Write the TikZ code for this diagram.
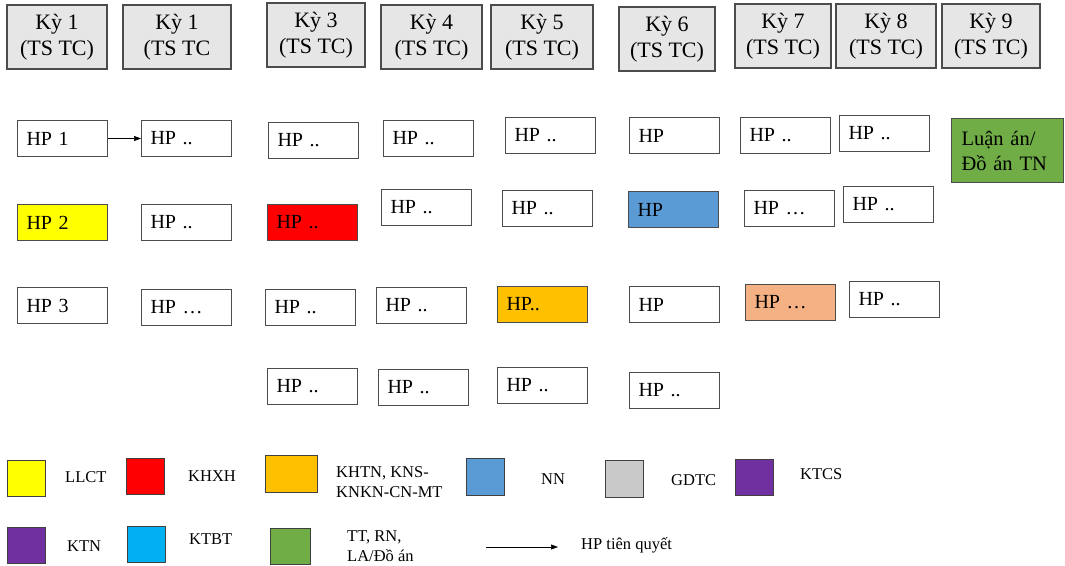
\documentclass[tikz,border=0pt]{standalone}
\usepackage{fontspec}
\setmainfont{Liberation Serif}
\usetikzlibrary{arrows.meta,positioning}
\definecolor{hdrgray}{HTML}{E7E6E6}
\definecolor{llct}{HTML}{FFFF00}
\definecolor{khxh}{HTML}{FF0000}
\definecolor{khtn}{HTML}{FFC000}
\definecolor{nn}{HTML}{5B9BD5}
\definecolor{gdtc}{HTML}{C9C9C9}
\definecolor{ktcs}{HTML}{7030A0}
\definecolor{ktbt}{HTML}{00B0F0}
\definecolor{tn}{HTML}{70AD47}
\definecolor{peach}{HTML}{F4B183}

\begin{document}
\begin{tikzpicture}[x=1pt, y=-1pt, font=\fontsize{20}{24}\selectfont,
  term/.style={draw=black!70, line width=1.1pt, fill=hdrgray, minimum height=64pt, inner sep=0pt, align=center, font=\fontsize{22}{26}\selectfont},
  hp/.style={draw=black!70, line width=1pt, anchor=north west, minimum height=36pt, text width=72pt, inner xsep=9pt, inner ysep=0pt, align=left},
  key/.style={draw=black!75, line width=1pt, anchor=north west, minimum width=38pt, minimum height=36pt, inner sep=0pt},
  keytext/.style={anchor=west, inner sep=0pt, align=left, font=\fontsize{16.5}{19.5}\selectfont},
  arrow/.style={-{Triangle[length=7pt,width=5pt]}, line width=0.6pt, draw=black}]
  \fill[white] (0,0) rectangle (1065,565);
  \useasboundingbox (0,0) rectangle (1065,565);
  % semesters
  \node[term, minimum width=100pt] (k1) at (57,37) {Kỳ 1\\(TS TC)};
  \node[term, minimum width=108pt] (k2) at (177,37) {Kỳ 1\\(TS TC};
  \node[term, minimum width=98pt] (k3) at (316,35) {Kỳ 3\\(TS TC)};
  \node[term, minimum width=101pt] (k4) at (431.5,37) {Kỳ 4\\(TS TC)};
  \node[term, minimum width=102pt] (k5) at (542,37) {Kỳ 5\\(TS TC)};
  \node[term, minimum width=96pt] (k6) at (667,39) {Kỳ 6\\(TS TC)};
  \node[term, minimum width=96pt] (k7) at (783,36) {Kỳ 7\\(TS TC)};
  \node[term, minimum width=100pt] (k8) at (886,36) {Kỳ 8\\(TS TC)};
  \node[term, minimum width=98pt] (k9) at (991,36) {Kỳ 9\\(TS TC)};
  % course boxes
  \node[hp] (a1) at (17,120) {HP 1};
  \node[hp, fill=llct] (a2) at (17,204) {HP 2};
  \node[hp] (a3) at (17,287) {HP 3};
  \node[hp] (b1) at (141,120) {HP ..};
  \node[hp] (b2) at (141,204) {HP ..};
  \node[hp] (b3) at (141,289) {HP …};
  \node[hp] (c1) at (268,122) {HP ..};
  \node[hp, fill=khxh] (c2) at (267,204) {HP ..};
  \node[hp] (c3) at (265,289) {HP ..};
  \node[hp] (c4) at (267,368) {HP ..};
  \node[hp] (d1) at (383,120) {HP ..};
  \node[hp] (d2) at (381,189) {HP ..};
  \node[hp] (d3) at (376,287) {HP ..};
  \node[hp] (d4) at (378,369) {HP ..};
  \node[hp] (e1) at (505,117) {HP ..};
  \node[hp] (e2) at (502,190) {HP ..};
  \node[hp, fill=khtn] (e3) at (497,286) {HP..};
  \node[hp] (e4) at (497,367) {HP ..};
  \node[hp] (f1) at (629,117) {HP};
  \node[hp, fill=nn] (f2) at (628,191) {HP};
  \node[hp] (f3) at (629,286) {HP};
  \node[hp] (f4) at (629,372) {HP ..};
  \node[hp] (g1) at (740,117) {HP ..};
  \node[hp] (g2) at (744,190) {HP …};
  \node[hp, fill=peach] (g3) at (745,284) {HP …};
  \node[hp] (h1) at (839,115) {HP ..};
  \node[hp] (h2) at (843,186) {HP ..};
  \node[hp] (h3) at (849,281) {HP ..};
  \node[hp, fill=tn, text width=92pt, inner xsep=10pt, minimum height=64pt, font=\fontsize{20.5}{25}\selectfont] (thesis) at (951,118) {Luận án/\\Đồ án TN};
  \draw[arrow] (a1) -- (b1);
  % legend
  \node[key, fill=llct] (sq1) at (7,460) {};
  \node[keytext] (lb1) at (65,477) {LLCT};
  \node[key, fill=khxh] (sq2) at (126,458) {};
  \node[keytext] (lb2) at (188,476) {KHXH};
  \node[key, fill=khtn, minimum width=52pt, minimum height=37pt] (sq3) at (265,455) {};
  \node[keytext] (lb3) at (336,482) {KHTN, KNS-\\KNKN-CN-MT};
  \node[key, fill=nn, minimum height=37pt] (sq4) at (466,458) {};
  \node[keytext] (lb4) at (541,479) {NN};
  \node[key, fill=gdtc, minimum height=37pt] (sq5) at (605,460) {};
  \node[keytext] (lb5) at (671,480) {GDTC};
  \node[key, fill=ktcs] (sq6) at (735,459) {};
  \node[keytext] (lb6) at (800,474) {KTCS};
  \node[key, fill=ktcs] (sq7) at (7,527) {};
  \node[keytext] (lb7) at (67,546) {KTN};
  \node[key, fill=ktbt] (sq8) at (127,526) {};
  \node[keytext] (lb8) at (189,539) {KTBT};
  \node[key, fill=tn, minimum width=40pt] (sq9) at (270,528) {};
  \node[keytext] (lb9) at (347,546) {TT, RN,\\LA/Đồ án};
  \coordinate (ar1) at (486,547);
  \coordinate (ar2) at (558,547);
  \draw[arrow] (ar1) -- (ar2);
  \node[keytext] (lb10) at (581,545) {HP tiên quyết};
\end{tikzpicture}
\end{document}
